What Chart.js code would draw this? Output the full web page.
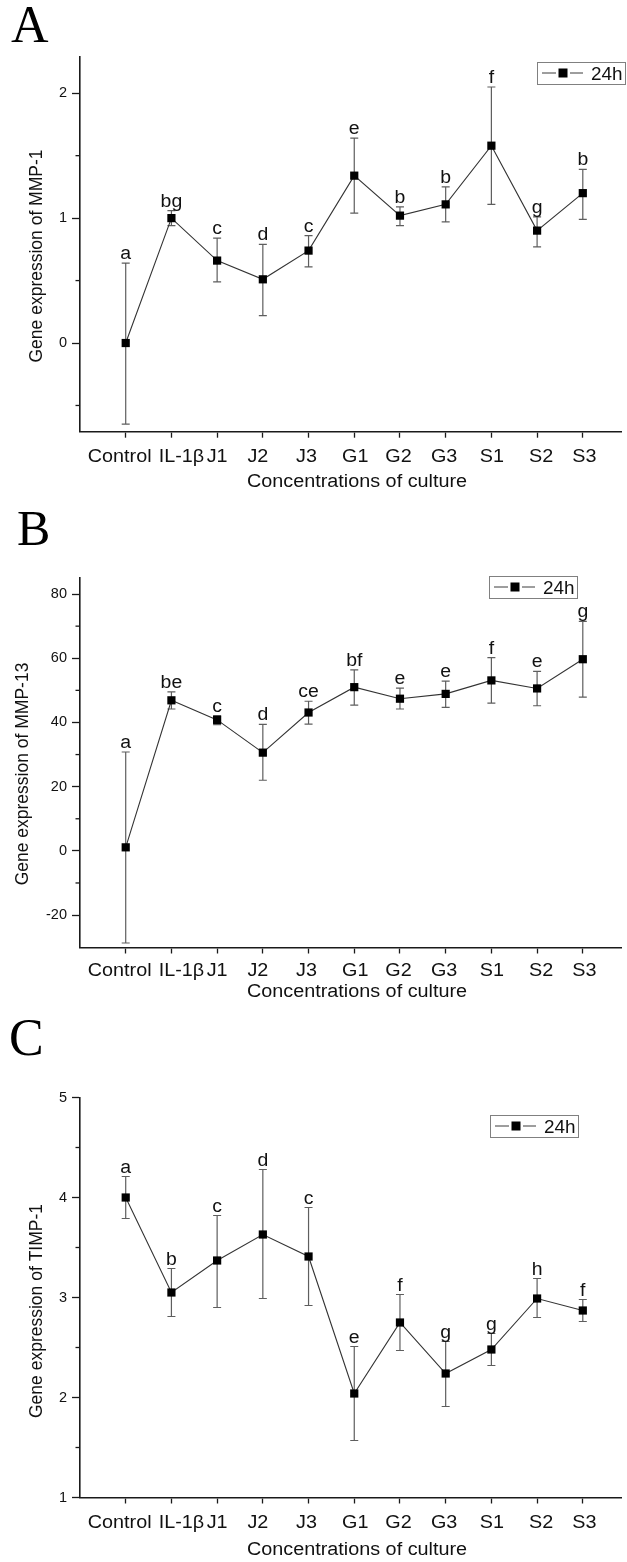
<!DOCTYPE html>
<html>
<head>
<meta charset="utf-8">
<script src="https://cdn.jsdelivr.net/npm/chart.js@4.4.0/dist/chart.umd.min.js"></script>
<style>
  html, body { margin: 0; padding: 0; background: #fff; }
  body { width: 627px; height: 1562px; position: relative; overflow: hidden; }
  canvas { position: absolute; left: 0; }
</style>
</head>
<body>
<canvas id="chartA" width="627" height="495" style="top:0px"></canvas>
<canvas id="chartB" width="627" height="530" style="top:480px"></canvas>
<canvas id="chartC" width="627" height="562" style="top:1000px"></canvas>
<script>
// ---- data ----
const categories = ['Control', 'IL-1β', 'J1', 'J2', 'J3', 'G1', 'G2', 'G3', 'S1', 'S2', 'S3'];
const seriesName = '24h';
const xTitle = 'Concentrations of culture';

// A: MMP-1
const mmp1Mean = [0.00, 1.00, 0.66, 0.51, 0.74, 1.34, 1.02, 1.11, 1.58, 0.90, 1.20];
const mmp1Low = [-0.65, 0.94, 0.49, 0.22, 0.61, 1.04, 0.94, 0.97, 1.11, 0.77, 0.99];
const mmp1High = [0.64, 1.06, 0.84, 0.79, 0.86, 1.64, 1.09, 1.25, 2.05, 1.01, 1.39];
const mmp1Letters = ['a', 'bg', 'c', 'd', 'c', 'e', 'b', 'b', 'f', 'g', 'b'];
const mmp1Ticks = [0, 1, 2];
const mmp1Minor = [-0.5, 0.5, 1.5];

// B: MMP-13
const mmp13Mean = [1.1, 46.9, 40.8, 30.6, 43.1, 51.0, 47.4, 48.9, 53.1, 50.6, 59.7];
const mmp13Low = [-28.7, 44.2, 39.3, 22.0, 39.5, 45.4, 44.2, 44.7, 46.0, 45.2, 47.9];
const mmp13High = [30.8, 49.5, 42.1, 39.4, 46.6, 56.4, 50.7, 52.9, 60.2, 55.9, 71.5];
const mmp13Letters = ['a', 'be', 'c', 'd', 'ce', 'bf', 'e', 'e', 'f', 'e', 'g'];
const mmp13Ticks = [-20, 0, 20, 40, 60, 80];
const mmp13Minor = [-10, 10, 30, 50, 70];

// C: TIMP-1
const timp1Mean = [4.00, 3.05, 3.37, 3.63, 3.41, 2.04, 2.75, 2.24, 2.48, 2.99, 2.87];
const timp1Low = [3.79, 2.81, 2.90, 2.99, 2.92, 1.57, 2.47, 1.91, 2.32, 2.80, 2.76];
const timp1High = [4.21, 3.29, 3.82, 4.28, 3.90, 2.51, 3.03, 2.56, 2.64, 3.19, 2.98];
const timp1Letters = ['a', 'b', 'c', 'd', 'c', 'e', 'f', 'g', 'g', 'h', 'f'];
const timp1Ticks = [1, 2, 3, 4, 5];
const timp1Minor = [1.5, 2.5, 3.5, 4.5];

// ---- layout (pixels) ----
const SANS = "'Liberation Sans', Arial, sans-serif";
const SERIF = "'Liberation Serif', 'Times New Roman', serif";
const INK = '#111';
const AXIS = '#1a1a1a';
const LABEL_NUDGE = [-6, 10, 0, -5, -2, 1, -1.5, -1.5, 0.5, 4, 1.5];

function stretchText(ctx, text, x, y, font, align, sx) {
    ctx.save();
    ctx.font = font;
    ctx.fillStyle = INK;
    ctx.textAlign = align;
    ctx.textBaseline = 'alphabetic';
    ctx.translate(x, y);
    ctx.scale(sx, 1);
    ctx.fillText(text, 0, 0);
    ctx.restore();
}

function decor(d, L) {
    return {
        id: 'decor',
        beforeDatasetsDraw(chart) {
            // error bars sit under the line and markers
            const { ctx, scales: { x, y } } = chart;
            ctx.save();
            ctx.strokeStyle = '#5e5e5e';
            ctx.lineWidth = 1.2;
            d.low.forEach((lo, i) => {
                const px = x.getPixelForValue(i);
                const y1 = y.getPixelForValue(lo);
                const y2 = y.getPixelForValue(d.high[i]);
                ctx.beginPath();
                ctx.moveTo(px, y1); ctx.lineTo(px, y2);
                ctx.moveTo(px - 4, y1); ctx.lineTo(px + 4, y1);
                ctx.moveTo(px - 4, y2); ctx.lineTo(px + 4, y2);
                ctx.stroke();
            });
            ctx.restore();
        },
        afterDraw(chart) {
            const { ctx, chartArea: area, scales: { x, y } } = chart;
            ctx.save();

            // minor ticks on the y axis
            ctx.strokeStyle = AXIS;
            ctx.lineWidth = 1.3;
            d.minor.forEach(v => {
                const py = y.getPixelForValue(v);
                ctx.beginPath();
                ctx.moveTo(area.left - 4.5, py);
                ctx.lineTo(area.left, py);
                ctx.stroke();
            });

            // category labels
            categories.forEach((c, i) => {
                stretchText(ctx, c, x.getPixelForValue(i) + LABEL_NUDGE[i], L.labelBase, `18px ${SANS}`, 'center', 1.1);
            });

            // significance letters
            d.letters.forEach((t, i) => {
                stretchText(ctx, t, x.getPixelForValue(i), y.getPixelForValue(d.high[i]) - 4, `18px ${SANS}`, 'center', 1.08);
            });

            // axis titles
            stretchText(ctx, xTitle, 357, L.titleBase, `18px ${SANS}`, 'center', 1.1);
            ctx.save();
            ctx.translate(L.yTitleX, L.yTitleY);
            ctx.rotate(-Math.PI / 2);
            ctx.font = `17.5px ${SANS}`;
            ctx.fillStyle = INK;
            ctx.textAlign = 'center';
            ctx.textBaseline = 'middle';
            ctx.fillText(d.yTitle, 0, 0);
            ctx.restore();

            // legend box
            const bx = L.legend[0], by = L.legend[1];
            const cy = by + 11;
            ctx.strokeStyle = '#808080';
            ctx.lineWidth = 1;
            ctx.strokeRect(bx + 0.5, by + 0.5, 88, 22);
            ctx.strokeStyle = '#3c3c3c';
            ctx.beginPath();
            ctx.moveTo(bx + 5, cy); ctx.lineTo(bx + 19, cy);
            ctx.moveTo(bx + 33, cy); ctx.lineTo(bx + 46, cy);
            ctx.stroke();
            ctx.fillStyle = '#000';
            ctx.fillRect(bx + 21.5, cy - 4.5, 9, 9);
            stretchText(ctx, seriesName, bx + 54, cy + 6.5, `17.5px ${SANS}`, 'left', 1.08);

            // panel letter
            ctx.font = `${L.panelSize}px ${SERIF}`;
            ctx.fillStyle = '#000';
            ctx.textAlign = 'left';
            ctx.textBaseline = 'alphabetic';
            ctx.fillText(L.panel, L.panelX, L.panelBase);

            ctx.restore();
        }
    };
}

function makePanel(id, d, L) {
    const canvas = document.getElementById(id);
    return new Chart(canvas, {
        type: 'line',
        data: {
            datasets: [{
                label: seriesName,
                data: d.mean.map((v, i) => ({ x: i, y: v })),
                borderColor: '#333',
                borderWidth: 1.1,
                tension: 0,
                pointStyle: 'rect',
                pointRadius: 5.8,
                pointBackgroundColor: '#000',
                pointBorderWidth: 0,
                clip: false
            }]
        },
        options: {
            responsive: false,
            animation: false,
            events: [],
            layout: { padding: { top: L.top, left: 0, right: 0, bottom: 0 } },
            plugins: { legend: { display: false }, tooltip: { enabled: false } },
            scales: {
                x: {
                    type: 'linear',
                    min: -1,
                    max: 10.84,
                    afterBuildTicks: s => { s.ticks = categories.map((c, i) => ({ value: i })); },
                    afterFit: s => { s.height = L.height - L.bottom; },
                    grid: { drawOnChartArea: false, drawTicks: true, tickLength: 6, tickColor: AXIS, tickWidth: 1.3 },
                    border: { color: AXIS, width: 1.6 },
                    ticks: { display: false }
                },
                y: {
                    min: d.yMin,
                    max: d.yMax,
                    afterBuildTicks: s => { s.ticks = d.ticks.map(v => ({ value: v })); },
                    afterFit: s => { s.width = 80; },
                    grid: { drawOnChartArea: false, drawTicks: true, tickLength: 8, tickColor: AXIS, tickWidth: 1.3 },
                    border: { color: AXIS, width: 1.6 },
                    ticks: { font: { family: SANS, size: 14.5 }, color: INK, padding: 5 }
                }
            }
        },
        plugins: [decor(d, L)]
    });
}

makePanel('chartA', {
    mean: mmp1Mean, low: mmp1Low, high: mmp1High, letters: mmp1Letters,
    ticks: mmp1Ticks, minor: mmp1Minor, yMin: -0.71, yMax: 2.29,
    yTitle: 'Gene expression of MMP-1'
}, {
    height: 495, top: 57, bottom: 431.7, labelBase: 461.5, titleBase: 486.5,
    yTitleX: 37, yTitleY: 256, legend: [537, 62],
    panel: 'A', panelX: 11, panelBase: 42, panelSize: 52
});

makePanel('chartB', {
    mean: mmp13Mean, low: mmp13Low, high: mmp13High, letters: mmp13Letters,
    ticks: mmp13Ticks, minor: mmp13Minor, yMin: -30.1, yMax: 85,
    yTitle: 'Gene expression of MMP-13'
}, {
    height: 530, top: 98, bottom: 467.5, labelBase: 496, titleBase: 517,
    yTitleX: 23.5, yTitleY: 294, legend: [489, 96],
    panel: 'B', panelX: 17, panelBase: 65, panelSize: 50
});

makePanel('chartC', {
    mean: timp1Mean, low: timp1Low, high: timp1High, letters: timp1Letters,
    ticks: timp1Ticks, minor: timp1Minor, yMin: 1, yMax: 5,
    yTitle: 'Gene expression of TIMP-1'
}, {
    height: 562, top: 97.5, bottom: 497.5, labelBase: 528.3, titleBase: 555,
    yTitleX: 37.5, yTitleY: 311, legend: [490, 115],
    panel: 'C', panelX: 9, panelBase: 54.5, panelSize: 52
});
</script>
</body>
</html>
